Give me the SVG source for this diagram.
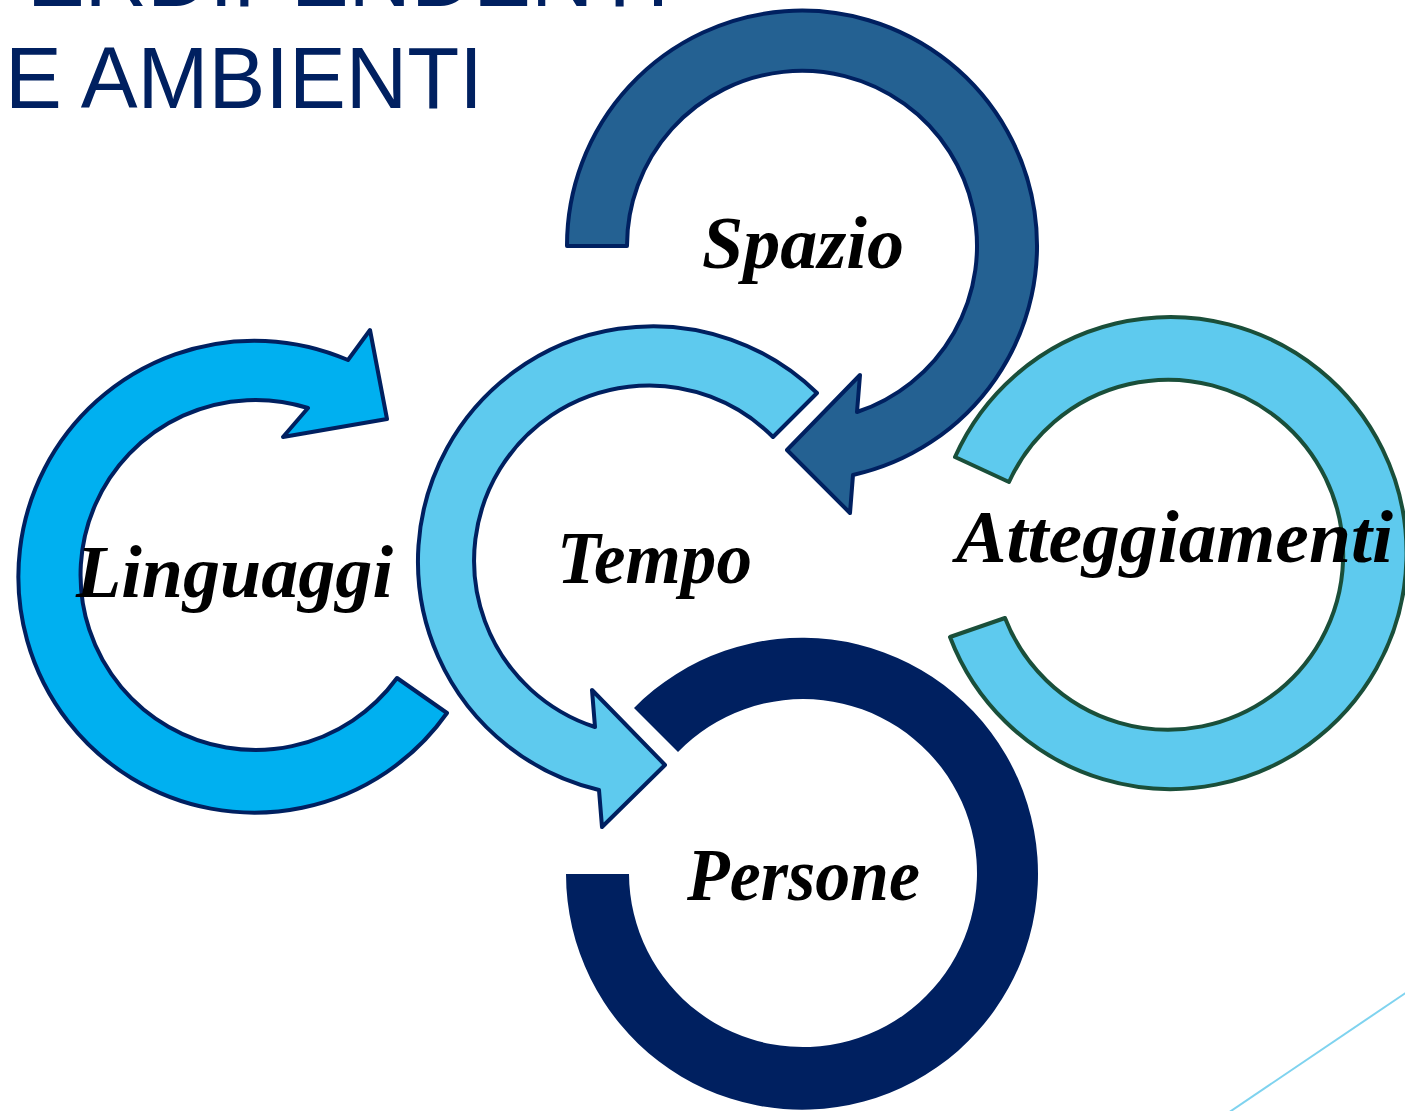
<svg xmlns="http://www.w3.org/2000/svg" width="1405" height="1111" viewBox="0 0 1405 1111">
<style>
.title{font-family:"Liberation Sans",Arial,sans-serif;font-size:88px;fill:#002060}
.lbl{font-family:"Liberation Serif","Times New Roman",serif;font-style:italic;font-weight:bold;font-size:74px;fill:#000}
.ring{stroke-width:4;stroke-linejoin:round}
</style>
<rect width="1405" height="1111" fill="#fff"/>
<g id="title">
<text class="title" x="27" y="6" textLength="643" lengthAdjust="spacingAndGlyphs">ERDIPENDENTI</text>
<text class="title" x="5" y="108" textLength="478" lengthAdjust="spacingAndGlyphs">E AMBIENTI</text>
</g>
<line x1="1228" y1="1113" x2="1407" y2="992" stroke="#7fd3ef" stroke-width="2"/>
<g id="connectors">
<g id="spazio">
<path class="ring" fill="#246192" stroke="#002060" d="M567,246 A235,235 0 1 1 853,475 L850,513 L787,450 L860,375 L857,412 A175,175 0 1 0 627,246 Z"/>
</g>
<g id="tempo">
<path class="ring" fill="#5ecaee" stroke="#002060" d="M817,393 A235,235 0 1 0 599,790 L602,827 L665,765 L592,690 L595,727 A175,175 0 1 1 773,437 Z"/>
</g>
<g id="linguaggi">
<path class="ring" fill="#00b0f0" stroke="#002060" d="M447,713 A236,236 0 1 1 348,360 L370,330 L387,419 L283,437 L308,408 A175,175 0 1 0 397,678 Z"/>
</g>
<g id="atteggiamenti">
<path class="ring" fill="#5ecaee" stroke="#1a4f3a" d="M955,457 A236,236 0 1 1 950,637 L1005,618 A175,175 0 1 0 1009,482 Z"/>
</g>
<g id="persone">
<path fill="#002060" d="M634,708 A236,236 0 1 1 566,874 L629,874 A174,174 0 1 0 678,752 Z"/>
</g>
</g>
<g id="labels">
<text class="lbl" x="702" y="268" textLength="202" lengthAdjust="spacingAndGlyphs">Spazio</text>
<text class="lbl" x="557" y="583" textLength="195" lengthAdjust="spacingAndGlyphs">Tempo</text>
<text class="lbl" x="76" y="597" textLength="317" lengthAdjust="spacingAndGlyphs">Linguaggi</text>
<text class="lbl" x="956" y="562" textLength="437" lengthAdjust="spacingAndGlyphs">Atteggiamenti</text>
<text class="lbl" x="687" y="900" textLength="233" lengthAdjust="spacingAndGlyphs">Persone</text>
</g>
</svg>
